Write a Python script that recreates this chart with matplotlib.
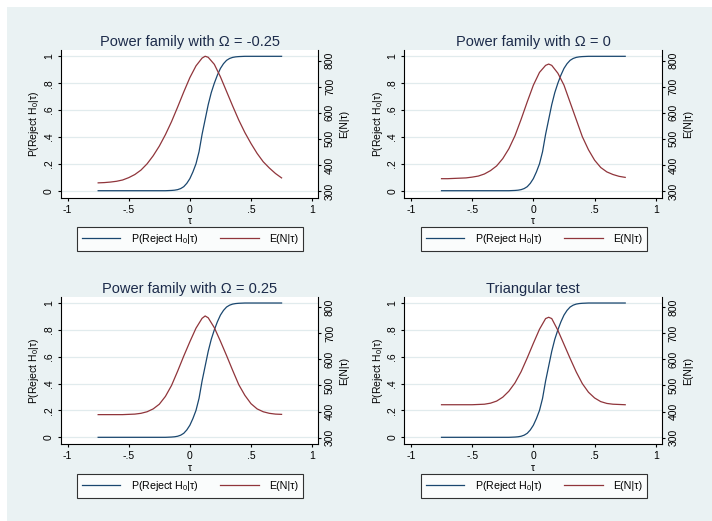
import matplotlib
matplotlib.use("Agg")
import matplotlib.pyplot as plt
from matplotlib.patches import Rectangle

plt.rcParams['font.family'] = ['Liberation Sans', 'DejaVu Sans']
plt.rcParams['mathtext.fontset'] = 'custom'
plt.rcParams['mathtext.rm'] = 'Liberation Sans'
plt.rcParams['mathtext.it'] = 'Liberation Sans:italic'

# Data
tau = [-0.75, -0.70, -0.65, -0.60, -0.55, -0.50, -0.45, -0.40, -0.35, -0.30,
       -0.25, -0.20, -0.15, -0.10, -0.05, 0.00, 0.05, 0.10, 0.125, 0.15,
       0.20, 0.25, 0.30, 0.35, 0.40, 0.45, 0.50, 0.55, 0.60, 0.65, 0.70, 0.75]

en_omega_m025 = [331, 332, 334, 337, 342, 351, 363, 380, 404, 435,
                 472, 516, 566, 622, 680, 735, 780, 810, 817, 813,
                 786, 738, 682, 626, 572, 524, 482, 444, 412, 388, 367, 350]
en_omega_0 = [347, 347, 348, 349, 350, 353, 357, 365, 378, 396,
              424, 462, 512, 575, 642, 706, 755, 782, 787, 782,
              752, 706, 640, 574, 508, 458, 418, 390, 373, 363, 356, 352]
en_omega_025 = [388, 388, 388, 388, 388, 389, 390, 393, 399, 410,
                428, 458, 500, 555, 613, 668, 720, 758, 767, 760,
                722, 670, 615, 558, 503, 462, 430, 410, 399, 393, 390, 389]
en_triangular = [426, 426, 426, 426, 426, 426, 427, 428, 432, 440,
                 455, 478, 510, 553, 606, 662, 716, 757, 762, 757,
                 712, 658, 604, 552, 507, 474, 452, 438, 431, 428, 427, 426]

tau_p = [-0.75, -0.70, -0.65, -0.60, -0.55, -0.50, -0.45, -0.40, -0.35, -0.30,
         -0.25, -0.20, -0.175, -0.15, -0.125, -0.10, -0.075, -0.05, -0.025, 0.00,
         0.025, 0.05, 0.075, 0.10, 0.125, 0.15, 0.175, 0.20, 0.225, 0.25,
         0.275, 0.30, 0.325, 0.35, 0.375, 0.40, 0.425, 0.45, 0.50, 0.55,
         0.60, 0.65, 0.70, 0.75]
power = [0, 0, 0, 0, 0, 0, 0, 0, 0, 0,
         0, 0, 0.001, 0.002, 0.004, 0.008, 0.016, 0.03, 0.055, 0.09,
         0.14, 0.20, 0.29, 0.42, 0.53, 0.64, 0.73, 0.80, 0.86, 0.91,
         0.945, 0.97, 0.984, 0.992, 0.996, 0.998, 0.999, 1.0, 1.0, 1.0,
         1.0, 1.0, 1.0, 1.0]

titles = ["Power family with Ω = -0.25", "Power family with Ω = 0",
          "Power family with Ω = 0.25", "Triangular test"]
en_series = [en_omega_m025, en_omega_0, en_omega_025, en_triangular]

xticks = [-1, -0.5, 0, 0.5, 1]
xticklabels = ["-1", "-.5", "0", ".5", "1"]
yticks = [0, 0.2, 0.4, 0.6, 0.8, 1]
yticklabels = ["0", ".2", ".4", ".6", ".8", "1"]
y2ticks = [300, 400, 500, 600, 700, 800]

W, H = 712, 521
BG = "#EAF2F3"
BLUE = "#1A476F"
RED = "#90353B"
TITLE = "#1C2B4A"

fig = plt.figure(figsize=(W / 100, H / 100), dpi=100)
fig.add_artist(Rectangle((7 / W, 0), 1 - 7 / W, 1 - 7 / H, transform=fig.transFigure,
                         facecolor=BG, edgecolor="none", zorder=-10))

# plot boxes in pixels: x0, y_top, x1, y_bottom
boxes = [(61, 50, 318, 197.7), (404.3, 50, 661.7, 197.7),
         (61, 296.7, 318, 444.3), (404.3, 296.7, 661.7, 444.3)]
legend_boxes = [(76.7, 229.3, 303.3, 248.3), (421, 229.3, 647.3, 248.3),
                (76.7, 476.7, 303.3, 495.7), (421, 476.7, 647.3, 495.7)]

for i in range(4):
    x0, yt, x1, yb = boxes[i]
    ax = fig.add_axes([x0 / W, 1 - yb / H, (x1 - x0) / W, (yb - yt) / H])
    ax.set_facecolor("white")
    ax2 = ax.twinx()

    l1, = ax.plot(tau_p, power, color=BLUE, lw=0.9, label="P(Reject H$_0$|τ)")
    l2, = ax2.plot(tau, en_series[i], color=RED, lw=0.9, label="E(N|τ)")

    ax.set_xlim(-1.054, 1.048)
    ax.set_ylim(-0.052, 1.047)
    ax2.set_ylim(274, 841)

    ax.set_xticks(xticks)
    ax.set_xticklabels(xticklabels)
    ax.set_yticks(yticks)
    ax.set_yticklabels(yticklabels, rotation=90, va="center")
    ax2.set_yticks(y2ticks)
    ax2.set_yticklabels([str(v) for v in y2ticks], rotation=90, va="center")

    ax.grid(axis="y", color="#E1EBED", lw=0.9)
    ax.set_axisbelow(True)

    for a in (ax, ax2):
        a.spines["top"].set_visible(False)
        for s in ("left", "right", "bottom"):
            a.spines[s].set_linewidth(0.8)
            a.spines[s].set_color("black")
        a.tick_params(length=2.5, width=0.8, labelsize=7.5, pad=2.5)
    ax.spines["right"].set_visible(False)
    ax2.spines["left"].set_visible(False)
    ax2.spines["bottom"].set_visible(False)

    ax.set_xlabel("τ", fontsize=7.5, labelpad=1)
    ax.set_ylabel("P(Reject H$_0$|τ)", fontsize=7.5, labelpad=2)
    ax2.set_ylabel("E(N|τ)", fontsize=7.5, labelpad=3)
    ax.set_title(titles[i], fontsize=10.5, color=TITLE, pad=3)

    lx0, lyt, lx1, lyb = legend_boxes[i]
    leg = fig.legend(handles=[l1, l2], loc="center", ncol=2, mode="expand",
                     bbox_to_anchor=(lx0 / W, 1 - lyb / H, (lx1 - lx0) / W, (lyb - lyt) / H),
                     fontsize=7.7, frameon=True, fancybox=False, borderaxespad=0,
                     handlelength=3.6, handletextpad=1.0, borderpad=0.45)
    leg.get_frame().set_edgecolor("black")
    leg.get_frame().set_linewidth(0.8)
    leg.get_frame().set_facecolor("white")

fig.savefig("out.png", dpi=100)
